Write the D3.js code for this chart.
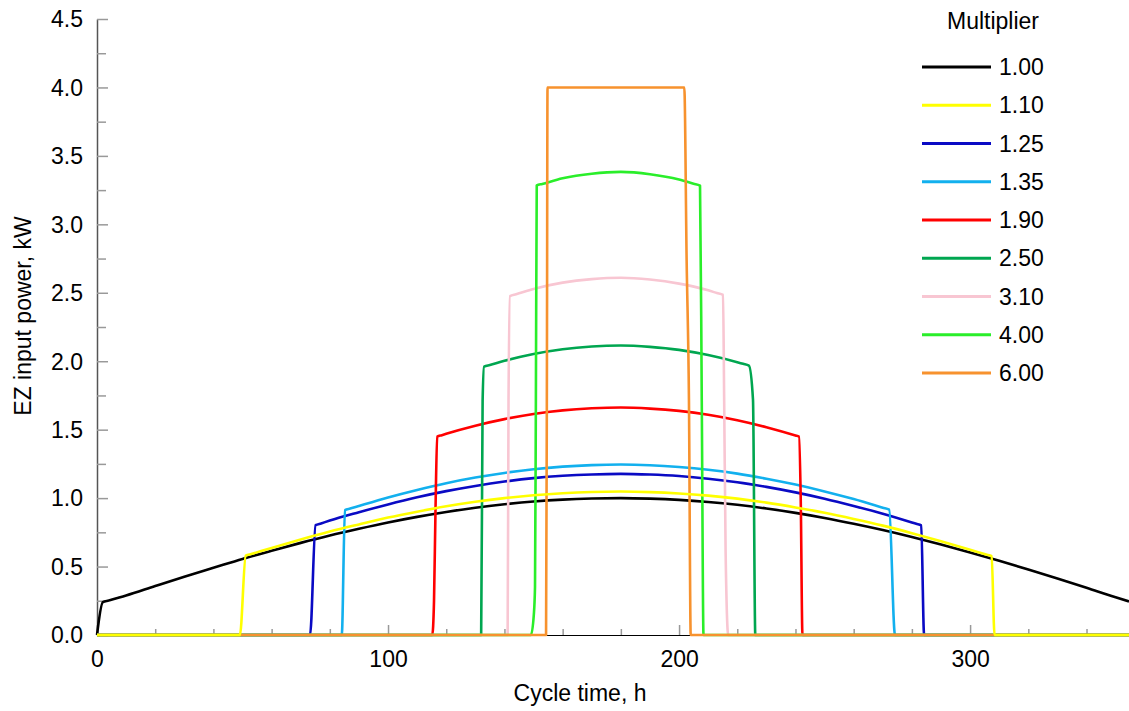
<!DOCTYPE html>
<html>
<head>
<meta charset="utf-8">
<script src="https://cdn.jsdelivr.net/npm/d3@7"></script>
<style>
  body { margin: 0; background: #fff; }
  text { font-family: "Liberation Sans", Arial, sans-serif; fill: #000; }
</style>
</head>
<body>
<svg id="chart" width="1129" height="711"></svg>
<script>
// multipliers shown in the legend, in drawing order
const multipliers = ["1.00", "1.10", "1.25", "1.35", "1.90", "2.50", "3.10", "4.00", "6.00"];
const series_colors = ["#000000", "#ffff00", "#0a0ac4", "#12b0ee", "#ff0000", "#00a650", "#f8c6d2", "#2aee2a", "#f7922e"];

// [cycle time h, EZ input power kW]
const power_100 = [[0,0],[2,0.24],[4,0.252],[10,0.289],[20,0.358],[30,0.426],[40,0.491],[50,0.556],[60,0.615],[70,0.673],[80,0.727],[90,0.776],[100,0.822],[110,0.863],[120,0.899],[130,0.930],[140,0.955],[150,0.975],[160,0.989],[170,0.997],[180,1.0],[190,0.996],[200,0.987],[210,0.972],[220,0.951],[230,0.924],[240,0.892],[250,0.855],[260,0.813],[270,0.767],[280,0.716],[290,0.661],[300,0.603],[310,0.542],[320,0.479],[330,0.413],[340,0.345],[350,0.275],[354.6,0.245]];
const power_110 = [[0,0],[49.1,0],[51.1,0.579],[53,0.591],[60,0.636],[70,0.698],[80,0.756],[90,0.808],[100,0.858],[110,0.901],[120,0.940],[130,0.973],[140,1.0],[150,1.021],[160,1.036],[170,1.045],[180,1.048],[190,1.044],[200,1.034],[210,1.018],[220,0.996],[230,0.967],[240,0.932],[250,0.893],[260,0.848],[270,0.799],[280,0.744],[290,0.685],[300,0.623],[305.5,0.588],[307.4,0.576],[308.4,0],[354.6,0]];
const power_125 = [[0,0],[73.2,0],[75.1,0.802],[77,0.815],[80,0.836],[90,0.897],[100,0.954],[110,1.006],[120,1.051],[130,1.089],[140,1.121],[150,1.146],[160,1.163],[170,1.173],[180,1.177],[190,1.172],[200,1.161],[210,1.142],[220,1.116],[230,1.082],[240,1.042],[250,0.996],[260,0.943],[270,0.886],[280,0.822],[281.5,0.812],[283.2,0.801],[284.2,0],[354.6,0]];
const power_135 = [[0,0],[84.1,0],[85.2,0.912],[87,0.924],[90,0.943],[100,1.005],[110,1.060],[120,1.109],[130,1.150],[140,1.184],[150,1.211],[160,1.230],[170,1.241],[180,1.245],[190,1.240],[200,1.227],[210,1.207],[220,1.179],[230,1.142],[240,1.099],[250,1.049],[260,0.993],[270,0.930],[272.2,0.916],[274.2,0],[354.6,0]];
const power_190 = [[0,0],[115.2,0],[115.8,0.25],[116.3,0.9],[116.9,1.449],[118.5,1.46],[120,1.470],[130,1.529],[140,1.577],[150,1.615],[160,1.641],[170,1.656],[180,1.662],[190,1.654],[200,1.637],[210,1.609],[220,1.569],[230,1.518],[240,1.457],[241.2,1.449],[241.8,1.0],[242.4,0],[354.6,0]];
const power_250 = [[0,0],[132.0,0],[132.5,1.71],[133.0,1.960],[135,1.972],[140,2.003],[150,2.053],[160,2.088],[170,2.108],[180,2.115],[190,2.105],[200,2.083],[210,2.045],[220,1.993],[222,1.981],[224.0,1.968],[225.4,1.72],[226.2,0],[354.6,0]];
const power_310 = [[0,0],[141.1,0],[141.4,1.71],[141.9,2.476],[144,2.489],[150,2.528],[160,2.574],[170,2.600],[180,2.610],[190,2.597],[200,2.567],[210,2.518],[213,2.498],[215.1,2.484],[215.5,1.71],[216.0,0.6],[216.9,0],[354.6,0]];
const power_400 = [[0,0],[149.1,0],[150.1,0.15],[150.5,0.35],[150.8,1.71],[151.1,3.284],[153,3.295],[160,3.336],[170,3.370],[180,3.383],[190,3.366],[200,3.327],[205,3.296],[207.2,3.282],[207.8,1.71],[208.4,0],[354.6,0]];
const power_600 = [[0,0],[154.3,0],[154.6,2.0],[154.8,4.0],[201.8,4.0],[202.6,2.74],[203.4,1.71],[204.0,0],[354.6,0]];

const x_major = [0, 100, 200, 300];
const x_minor = [20, 40, 60, 80, 120, 140, 160, 180, 220, 240, 260, 280, 320, 340];
const y_major = [0, 0.5, 1.0, 1.5, 2.0, 2.5, 3.0, 3.5, 4.0, 4.5];
const y_minor = [0.25, 0.75, 1.25, 1.75, 2.25, 2.75, 3.25, 3.75, 4.25];

const all_series = [power_100, power_110, power_125, power_135, power_190, power_250, power_310, power_400, power_600];

let svg = d3.select("#chart");
let x = d3.scaleLinear().domain([0, 354.6]).range([97, 1129]);
let y = d3.scaleLinear().domain([0, 4.5]).range([635, 19]);

// axes: ticks point into the plot
let x_axis = svg.append("g").attr("class", "x_axis").attr("transform", "translate(0,635)")
  .call(d3.axisBottom(x).tickValues(x_major).tickFormat(d3.format("d")).tickSizeInner(-10).tickSizeOuter(0).tickPadding(16));
svg.append("g").attr("class", "x_minor").attr("transform", "translate(0,635)")
  .call(d3.axisBottom(x).tickValues(x_minor).tickFormat("").tickSizeInner(-6).tickSizeOuter(0))
  .select(".domain").remove();
x_axis.select(".domain").attr("stroke", "#000").attr("stroke-width", 1.2);

let y_axis = svg.append("g").attr("class", "y_axis").attr("transform", "translate(97,0)")
  .call(d3.axisLeft(y).tickValues(y_major).tickFormat(d3.format(".1f")).tickSizeInner(-11).tickSizeOuter(0).tickPadding(14));
svg.append("g").attr("class", "y_minor").attr("transform", "translate(97,0)")
  .call(d3.axisLeft(y).tickValues(y_minor).tickFormat("").tickSizeInner(-9).tickSizeOuter(0))
  .select(".domain").remove();
y_axis.select(".domain").attr("stroke", "#555").attr("stroke-width", 1.5);

svg.selectAll(".tick line").attr("stroke", "#999").attr("stroke-width", 1.5);
svg.selectAll(".tick text").style("font-size", "23px").attr("fill", "#000");
y_axis.selectAll(".tick text").attr("dy", "0.34em");

// series, later ones on top; the 1.10 line is drawn last
let line = d3.line().x(d => x(d[0])).y(d => y(d[1])).curve(d3.curveMonotoneX);
let order = [0, 2, 3, 4, 5, 6, 7, 8, 1];
let series_g = svg.append("g").attr("class", "series");
order.forEach(i => {
  series_g.append("path")
    .attr("d", line(all_series[i]))
    .attr("fill", "none")
    .attr("stroke", series_colors[i])
    .attr("stroke-width", 2.6)
    .attr("stroke-linejoin", "round");
});

// axis titles
svg.append("text").attr("x", 580).attr("y", 701).attr("text-anchor", "middle")
  .style("font-size", "23px").text("Cycle time, h");
svg.append("text").attr("transform", "translate(31,316) rotate(-90)").attr("text-anchor", "middle")
  .style("font-size", "23px").text("EZ input power, kW");

// legend
let legend = svg.append("g").attr("class", "legend");
legend.append("text").attr("x", 993).attr("y", 29).attr("text-anchor", "middle")
  .style("font-size", "23px").text("Multiplier");
let item = legend.selectAll(".item").data(multipliers).enter().append("g")
  .attr("class", "item")
  .attr("transform", (d, i) => "translate(0," + (67 + i * 38.25) + ")");
item.append("line").attr("x1", 922).attr("x2", 991)
  .attr("stroke", (d, i) => series_colors[i]).attr("stroke-width", 3);
item.append("text").attr("x", 999).attr("dy", "0.35em")
  .style("font-size", "23px").text(d => d);
</script>
</body>
</html>
